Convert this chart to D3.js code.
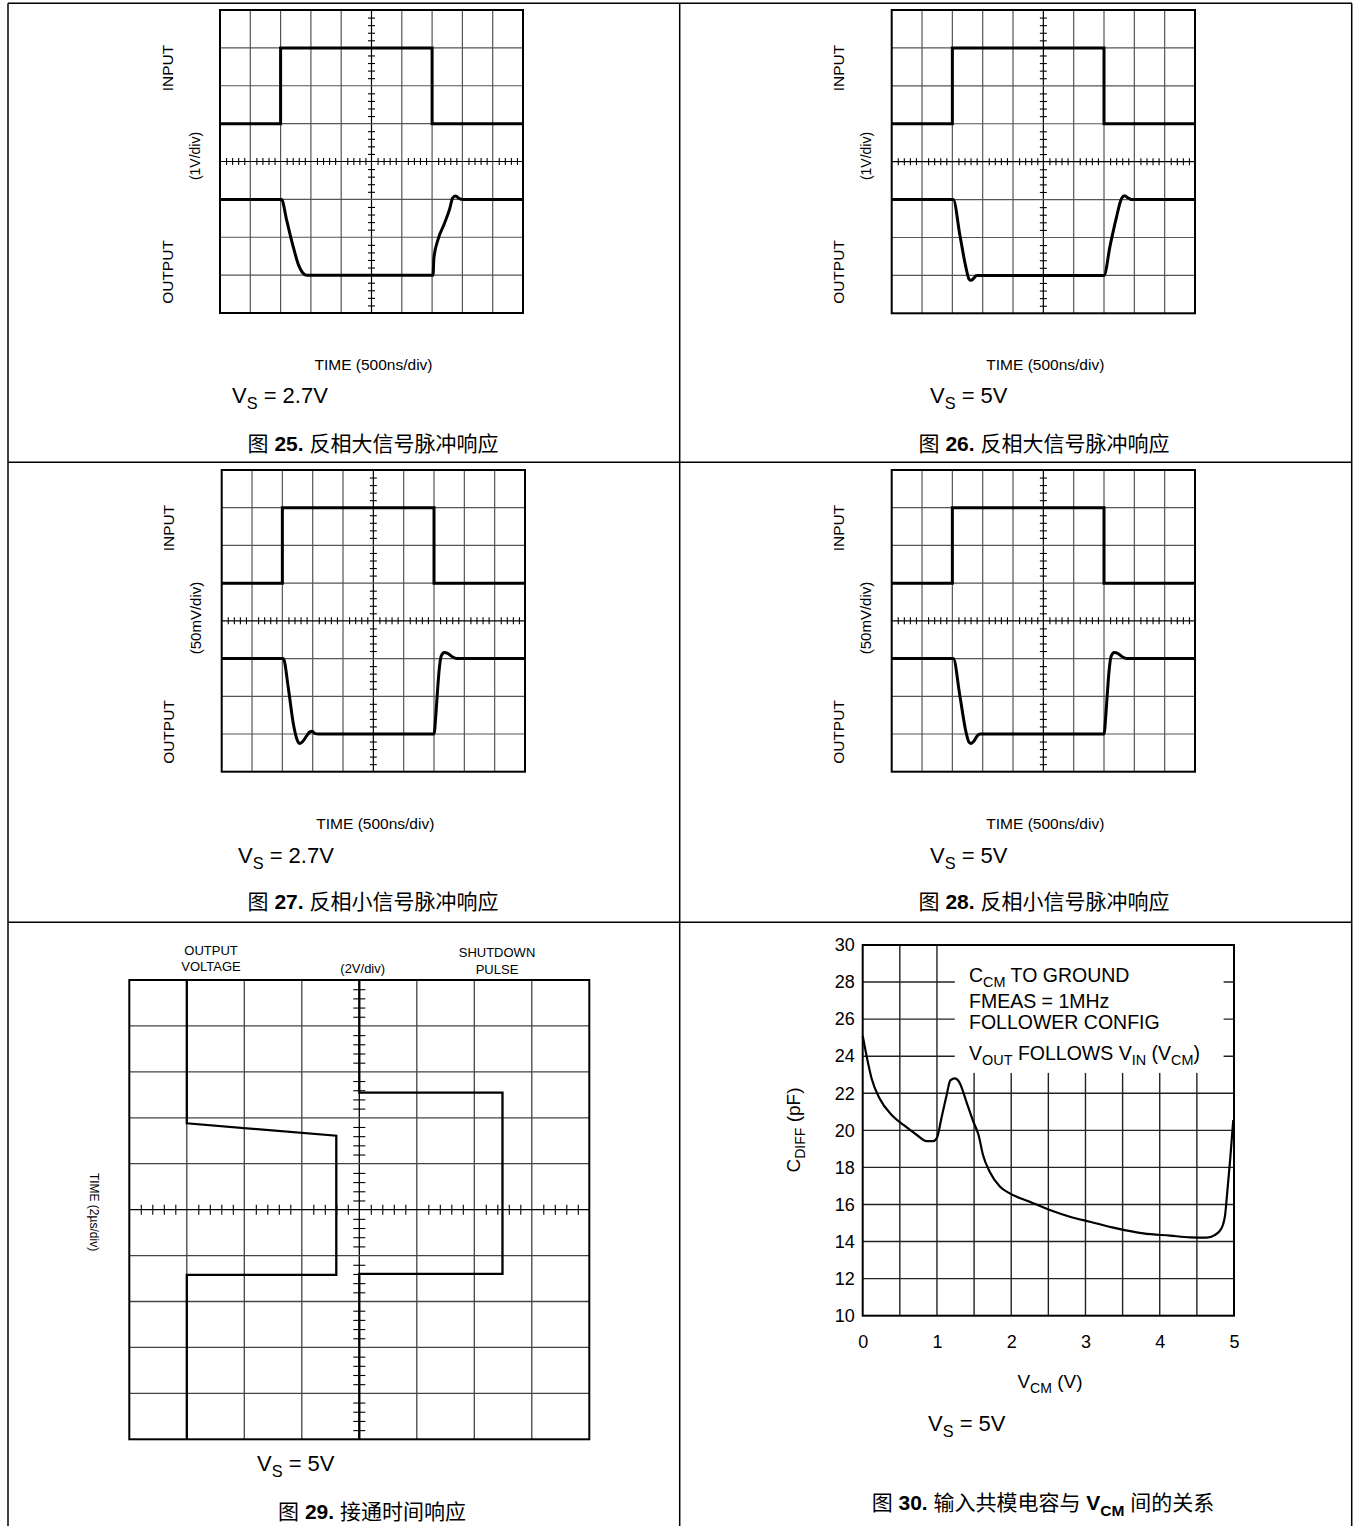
<!DOCTYPE html>
<html>
<head>
<meta charset="utf-8">
<script src="https://cdn.jsdelivr.net/npm/d3@7"></script>
<style>
    body { margin: 0; background: #fff; }
    svg { display: block; font-family: "Liberation Sans", Arial, "Noto Sans CJK SC", sans-serif; }
</style>
</head>
<body>
<svg id="canvas" width="1353" height="1526"></svg>
<script>
(function () {

    // Scope traces, in divisions: [time div, volt div counted from the bottom].
    const pulseInput = [[0, 5], [2, 5], [2, 7], [7, 7], [7, 5], [10, 5]];
    const fig25Output = [[0, 3], [2.03, 3], [2.2, 2.45], [2.4, 1.8], [2.6, 1.25], [2.72, 1.07], [2.85, 1.0], [3.0, 1.0],
        [7.03, 1.0], [7.06, 1.45], [7.2, 1.95], [7.4, 2.35], [7.58, 2.75], [7.68, 3.04], [7.78, 3.09], [7.9, 3.02], [8.02, 3.0], [10, 3]];
    const fig26Output = [[0, 3], [2.03, 3], [2.25, 2.05], [2.45, 1.2], [2.55, 0.9], [2.62, 0.87], [2.7, 0.92], [2.8, 1.0],
        [7.0, 1.0], [7.2, 1.78], [7.4, 2.5], [7.58, 3.03], [7.68, 3.1], [7.8, 3.04], [7.9, 3.0], [10, 3]];
    const fig27Output = [[0, 3], [2.03, 3], [2.2, 2.2], [2.36, 1.28], [2.5, 0.82], [2.58, 0.75], [2.67, 0.8], [2.8, 0.95],
        [2.9, 1.05], [2.98, 1.07], [3.08, 1.01], [3.2, 1.0], [7.0, 1.0], [7.06, 1.5], [7.11, 2.08], [7.17, 2.7], [7.24, 3.07],
        [7.34, 3.16], [7.45, 3.14], [7.6, 3.05], [7.75, 3.0], [10, 3]];
    const fig28Output = [[0, 3], [2.03, 3], [2.25, 2.0], [2.45, 1.05], [2.55, 0.78], [2.62, 0.75], [2.7, 0.8], [2.82, 0.95],
        [2.92, 1.0], [7.0, 1.0], [7.06, 1.5], [7.11, 2.08], [7.17, 2.7], [7.24, 3.07], [7.34, 3.16], [7.45, 3.14], [7.6, 3.05],
        [7.75, 3.0], [10, 3]];

    // Turn-on trace, in divisions: [volt div from the left, time div from the top].
    const fig29Output = [[1, 0], [1, 3.12], [3.6, 3.39], [3.6, 6.42], [1, 6.42], [1, 10]];
    const fig29Shutdown = [[4, 0], [4, 2.45], [6.49, 2.45], [6.49, 6.4], [4, 6.4], [4, 10]];

    // Input common-mode capacitance vs VCM.
    const fig30Vcm = [0.0, 0.05, 0.12, 0.23, 0.39, 0.55, 0.73, 0.86, 0.95, 1.0, 1.06, 1.13, 1.18, 1.24, 1.3, 1.4, 1.49,
        1.56, 1.62, 1.71, 1.85, 1.98, 2.25, 2.52, 2.79, 3.06, 3.42, 3.78, 4.14, 4.41, 4.63, 4.74, 4.83, 4.88, 4.91, 4.95, 4.99];
    const fig30Cdiff = [25.1, 24.06, 22.8, 21.7, 20.83, 20.29, 19.75, 19.42, 19.42, 19.6, 20.65, 21.9, 22.7, 22.8, 22.6,
        21.5, 20.47, 19.75, 18.67, 17.77, 16.96, 16.6, 16.15, 15.7, 15.34, 15.07, 14.71, 14.44, 14.32, 14.23, 14.21, 14.35,
        14.71, 15.43, 16.7, 18.5, 20.56];
    const fig30XTicks = [0, 1, 2, 3, 4, 5];
    const fig30YTicks = [10, 12, 14, 16, 18, 20, 22, 24, 26, 28, 30];

    const CAPTION_SIZE = 21;
    const VS_SIZE = 22;

    const svg = d3.select("#canvas");
    const notInt = v => Math.abs(v - Math.round(v)) > 0.01;

    // Table frame round the six figures.
    let table = svg.append("g").attr("stroke", "#000").attr("stroke-width", 1.5);
    [[8, 3.3, 1352, 3.3], [8, 462.3, 1352, 462.3], [8, 922.3, 1352, 922.3],
     [8, 3.3, 8, 1526], [679.7, 3.3, 679.7, 1526], [1351.7, 3.3, 1351.7, 1526]].forEach(l => {
        table.append("line").attr("x1", l[0]).attr("y1", l[1]).attr("x2", l[2]).attr("y2", l[3]);
    });


    /**
     * Text with subscripts and bold runs. parts: [{t, sub, b}]
     */
    function richText(g, x, y, parts, size, anchor) {
        let t = g.append("text")
            .attr("x", x).attr("y", y)
            .attr("font-size", size)
            .attr("text-anchor", anchor || "start");
        let shift = 0;
        parts.forEach(p => {
            let target = p.sub ? size * 0.28 : 0;
            let s = t.append("tspan").text(p.t);
            if (target !== shift) s.attr("dy", target - shift);
            if (p.sub) s.attr("font-size", size * 0.74);
            if (p.b) s.attr("font-weight", "bold");
            shift = target;
        });
        return t;
    }

    function rotText(g, x, y, str, size, angle) {
        g.append("text")
            .attr("transform", `translate(${x},${y}) rotate(${angle})`)
            .attr("text-anchor", "middle")
            .attr("dy", "0.35em")
            .attr("font-size", size)
            .text(str);
    }

    function caption(x, y, num, rest) {
        let parts = [{ t: "图 " }, { t: num, b: true }].concat(rest);
        richText(svg, x, y, parts, CAPTION_SIZE, "middle");
    }


    /**
     * One oscilloscope screen: 10 x 8 divisions, centre graticule with minor ticks.
     */
    function scopePlot(o) {
        let g = svg.append("g");
        let x = d3.scaleLinear().domain([0, 10]).range([o.left, o.left + o.width]);
        let y = d3.scaleLinear().domain([0, 8]).range([o.top + o.height, o.top]);

        g.append("g").selectAll("line").data(d3.range(1, 10)).join("line")
            .attr("x1", d => x(d)).attr("x2", d => x(d))
            .attr("y1", y(0)).attr("y2", y(8))
            .attr("stroke", d => d === 5 ? "#000" : "#555")
            .attr("stroke-width", 1.2);
        g.append("g").selectAll("line").data(d3.range(1, 8)).join("line")
            .attr("x1", x(0)).attr("x2", x(10))
            .attr("y1", d => y(d)).attr("y2", d => y(d))
            .attr("stroke", d => d === 4 ? "#000" : "#555")
            .attr("stroke-width", 1.2);

        let minorX = d3.range(0, 10.001, 0.2).filter(notInt);
        let minorY = d3.range(0, 8.001, 0.2).filter(notInt);
        [d3.axisTop, d3.axisBottom].forEach(a => {
            g.append("g")
                .attr("transform", `translate(0,${y(4)})`)
                .attr("stroke-width", 1.1)
                .call(a(x).tickValues(minorX).tickSize(3.5).tickFormat(""))
                .call(s => s.select(".domain").remove());
        });
        [d3.axisLeft, d3.axisRight].forEach(a => {
            g.append("g")
                .attr("transform", `translate(${x(5)},0)`)
                .attr("stroke-width", 1.1)
                .call(a(y).tickValues(minorY).tickSize(3.5).tickFormat(""))
                .call(s => s.select(".domain").remove());
        });

        g.append("rect")
            .attr("x", x(0)).attr("y", y(8))
            .attr("width", x(10) - x(0)).attr("height", y(0) - y(8))
            .attr("fill", "none").attr("stroke", "#000").attr("stroke-width", 2);

        let line = d3.line().x(d => x(d[0])).y(d => y(d[1]));
        g.append("path").datum(pulseInput)
            .attr("d", line)
            .attr("fill", "none").attr("stroke", "#000").attr("stroke-width", 3);
        g.append("path").datum(o.output)
            .attr("d", line.curve(d3.curveMonotoneX))
            .attr("fill", "none").attr("stroke", "#000").attr("stroke-width", 3)
            .attr("stroke-linejoin", "round");

        rotText(g, o.labelX, o.top + 58, "INPUT", 15.5, -90);
        rotText(g, o.labelX, o.top + 262, "OUTPUT", 15.5, -90);
        rotText(g, o.labelX + 27, o.scaleY, o.scaleText, o.scaleSize, -90);

        let cx = o.left + o.width / 2 + 2;
        g.append("text")
            .attr("x", cx).attr("y", o.timeY)
            .attr("text-anchor", "middle")
            .attr("font-size", 15.5)
            .text("TIME (500ns/div)");
        richText(g, o.vsX, o.vsY, [{ t: "V" }, { t: "S", sub: true }, { t: " = " + o.vs }], VS_SIZE);
    }

    scopePlot({ left: 220, top: 10, width: 303, height: 303, output: fig25Output, labelX: 168,
        scaleText: "(1V/div)", scaleSize: 14, scaleY: 156, timeY: 369.5, vsX: 232, vsY: 403, vs: "2.7V" });
    scopePlot({ left: 891.7, top: 10, width: 303.3, height: 303.3, output: fig26Output, labelX: 839,
        scaleText: "(1V/div)", scaleSize: 14, scaleY: 156, timeY: 369.5, vsX: 930, vsY: 403, vs: "5V" });
    scopePlot({ left: 221.7, top: 470, width: 303.3, height: 301.7, output: fig27Output, labelX: 169,
        scaleText: "(50mV/div)", scaleSize: 15, scaleY: 618, timeY: 828.5, vsX: 238, vsY: 863, vs: "2.7V" });
    scopePlot({ left: 891.7, top: 470, width: 303.3, height: 301.7, output: fig28Output, labelX: 839,
        scaleText: "(50mV/div)", scaleSize: 15, scaleY: 618, timeY: 828.5, vsX: 930, vsY: 863, vs: "5V" });

    caption(373, 451, "25.", [{ t: " 反相大信号脉冲响应" }]);
    caption(1044, 451, "26.", [{ t: " 反相大信号脉冲响应" }]);
    caption(373, 909, "27.", [{ t: " 反相小信号脉冲响应" }]);
    caption(1044, 909, "28.", [{ t: " 反相小信号脉冲响应" }]);


    // Figure 29: turn-on time, time runs downwards.
    (function () {
        let g = svg.append("g");
        let x = d3.scaleLinear().domain([0, 8]).range([129.3, 589.3]);
        let y = d3.scaleLinear().domain([0, 10]).range([980, 1439.3]);

        g.append("g").selectAll("line").data(d3.range(1, 8)).join("line")
            .attr("x1", d => x(d)).attr("x2", d => x(d))
            .attr("y1", y(0)).attr("y2", y(10))
            .attr("stroke", d => d === 4 ? "#000" : "#444").attr("stroke-width", 1.3);
        g.append("g").selectAll("line").data(d3.range(1, 10)).join("line")
            .attr("x1", x(0)).attr("x2", x(8))
            .attr("y1", d => y(d)).attr("y2", d => y(d))
            .attr("stroke", d => d === 5 ? "#000" : "#444").attr("stroke-width", 1.3);

        let minorX = d3.range(0, 8.001, 0.2).filter(notInt);
        let minorY = d3.range(0, 10.001, 0.2).filter(notInt);
        [d3.axisTop, d3.axisBottom].forEach(a => {
            g.append("g")
                .attr("transform", `translate(0,${y(5)})`)
                .attr("stroke-width", 1.1)
                .call(a(x).tickValues(minorX).tickSize(5).tickFormat(""))
                .call(s => s.select(".domain").remove());
        });
        [d3.axisLeft, d3.axisRight].forEach(a => {
            g.append("g")
                .attr("transform", `translate(${x(4)},0)`)
                .attr("stroke-width", 1.1)
                .call(a(y).tickValues(minorY).tickSize(6).tickFormat(""))
                .call(s => s.select(".domain").remove());
        });

        g.append("rect")
            .attr("x", x(0)).attr("y", y(0))
            .attr("width", x(8) - x(0)).attr("height", y(10) - y(0))
            .attr("fill", "none").attr("stroke", "#000").attr("stroke-width", 2);

        let line = d3.line().x(d => x(d[0])).y(d => y(d[1]));
        [fig29Output, fig29Shutdown].forEach(tr => {
            g.append("path").datum(tr)
                .attr("d", line)
                .attr("fill", "none").attr("stroke", "#000").attr("stroke-width", 2.3);
        });

        let lab = [["OUTPUT", 211, 955.3], ["VOLTAGE", 211, 971.3], ["(2V/div)", 362.7, 972.6],
                   ["SHUTDOWN", 497, 957.3], ["PULSE", 497, 973.6]];
        g.selectAll("text.lab").data(lab).join("text")
            .attr("class", "lab")
            .attr("x", d => d[1]).attr("y", d => d[2])
            .attr("text-anchor", "middle").attr("font-size", 13)
            .text(d => d[0]);
        rotText(g, 94, 1212, "TIME (2µs/div)", 12, 90);
        richText(g, 257, 1471, [{ t: "V" }, { t: "S", sub: true }, { t: " = 5V" }], VS_SIZE);
    })();
    caption(372, 1519, "29.", [{ t: " 接通时间响应" }]);


    // Figure 30: CDIFF vs VCM.
    (function () {
        let g = svg.append("g");
        let x = d3.scaleLinear().domain([0, 5]).range([862.7, 1234]);
        let y = d3.scaleLinear().domain([10, 30]).range([1315.7, 945]);

        g.append("g").selectAll("line").data(d3.range(0.5, 5, 0.5)).join("line")
            .attr("x1", d => x(d)).attr("x2", d => x(d))
            .attr("y1", y(10)).attr("y2", y(30))
            .attr("stroke", "#222").attr("stroke-width", 1.4);
        g.append("g").selectAll("line").data(fig30YTicks.slice(1, -1)).join("line")
            .attr("x1", x(0)).attr("x2", x(5))
            .attr("y1", d => y(d)).attr("y2", d => y(d))
            .attr("stroke", "#222").attr("stroke-width", 1.4);

        // white box behind the conditions text
        g.append("rect")
            .attr("x", x(1.24)).attr("y", y(30))
            .attr("width", x(4.86) - x(1.24)).attr("height", y(23.1) - y(30))
            .attr("fill", "#fff");

        g.append("rect")
            .attr("x", x(0)).attr("y", y(30))
            .attr("width", x(5) - x(0)).attr("height", y(10) - y(30))
            .attr("fill", "none").attr("stroke", "#000").attr("stroke-width", 2);

        let pts = fig30Vcm.map((v, i) => [v, fig30Cdiff[i]]);
        g.append("path").datum(pts)
            .attr("d", d3.line().x(d => x(d[0])).y(d => y(d[1])).curve(d3.curveMonotoneX))
            .attr("fill", "none").attr("stroke", "#000").attr("stroke-width", 2.2);

        g.append("g")
            .attr("transform", `translate(${x(0)},0)`)
            .call(d3.axisLeft(y).tickValues(fig30YTicks).tickSize(0).tickPadding(8).tickFormat(d3.format("d")))
            .call(s => s.select(".domain").remove())
            .call(s => s.selectAll("text").attr("font-size", 18).attr("font-family", null).attr("fill", "#000"));
        g.append("g")
            .attr("transform", `translate(0,${y(10)})`)
            .call(d3.axisBottom(x).tickValues(fig30XTicks).tickSize(0).tickPadding(20).tickFormat(d3.format("d")))
            .call(s => s.select(".domain").remove())
            .call(s => s.selectAll("text").attr("font-size", 18).attr("font-family", null).attr("fill", "#000"));

        richText(g, 969, 982, [{ t: "C" }, { t: "CM", sub: true }, { t: " TO GROUND" }], 19.5);
        richText(g, 969, 1008, [{ t: "FMEAS = 1MHz" }], 19.5);
        richText(g, 969, 1029, [{ t: "FOLLOWER CONFIG" }], 19.5);
        richText(g, 969, 1060, [{ t: "V" }, { t: "OUT", sub: true }, { t: " FOLLOWS V" }, { t: "IN", sub: true },
            { t: " (V" }, { t: "CM", sub: true }, { t: ")" }], 19.5);

        richText(g, 1050, 1388, [{ t: "V" }, { t: "CM", sub: true }, { t: " (V)" }], 19, "middle");
        let yl = g.append("g").attr("transform", "translate(800,1130) rotate(-90)");
        richText(yl, 0, 0, [{ t: "C" }, { t: "DIFF", sub: true }, { t: " (pF)" }], 19, "middle");
        richText(g, 928, 1431, [{ t: "V" }, { t: "S", sub: true }, { t: " = 5V" }], VS_SIZE);
    })();
    caption(1043, 1510, "30.", [{ t: " 输入共模电容与 " }, { t: "V", b: true }, { t: "CM", b: true, sub: true },
        { t: " 间的关系" }]);

})();
</script>
</body>
</html>
